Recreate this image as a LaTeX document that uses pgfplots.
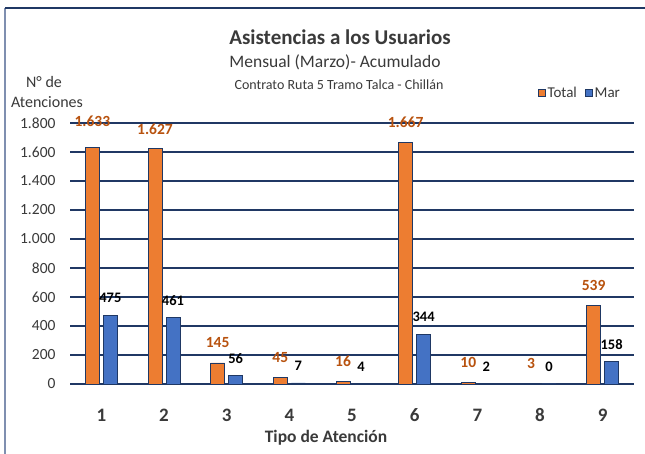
\documentclass[border=0pt]{standalone}
\usepackage{pgfplots}
\pgfplotsset{compat=1.18}
\usepackage{fontspec}
\setmainfont{Carlito}
\definecolor{navy}{HTML}{203864}
\definecolor{borderc}{HTML}{1F3864}
\definecolor{orangec}{HTML}{ED7D31}
\definecolor{bluec}{HTML}{4472C4}
\definecolor{labelor}{HTML}{B8520E}
\definecolor{txtgray}{HTML}{3A3A3A}
\definecolor{leftline}{HTML}{7F8FB0}
\newcommand{\fs}[1]{\fontsize{#1pt}{#1pt}\selectfont}
\begin{document}
\begin{tikzpicture}
\useasboundingbox (0,0) rectangle (645pt,454pt);
\fill[white] (0,0) rectangle (645pt,454pt);
\draw[leftline, line width=1.2pt] (5pt,0) -- (5pt,446pt);
\draw[borderc, line width=1.2pt] (5pt,446pt) -- (645pt,446pt);
\begin{axis}[
  at={(70pt,70pt)}, anchor=south west,
  scale only axis, width=564pt, height=261pt,
  xmin=0.5, xmax=9.5, ymin=0, ymax=1800,
  clip=false,
  ybar=4pt, bar width=14pt,
  xtick={1,...,9},
  ytick={0,200,...,1800},
  ymajorgrids, major grid style={navy, line width=1.4pt},
  axis line style={draw=none},
  tick style={draw=none},
  /pgf/number format/.cd, 1000 sep={.}, assume math mode=true,
  /pgfplots/.cd,
  yticklabel style={font=\fs{15.5}, text=txtgray, xshift=-11pt},
  xticklabel style={font=\fs{19}\bfseries, text=txtgray, anchor=base, yshift=-33pt},
  xticklabel={\pgfmathprintnumber[assume math mode=true]{\tick}},
  legend style={at={(0.904,1.115)}, anchor=center, draw=none, fill=none,
    font=\fs{15}, text=txtgray, legend columns=2,
    /tikz/every even column/.append style={column sep=6pt}},
  legend image code/.code={\draw[#1,draw=borderc,line width=0.8pt] (0pt,-3.5pt) rectangle (7pt,4pt);},
]
\addplot[fill=orangec, draw=borderc, line width=0.8pt,
  visualization depends on={\thisrow{s}\as\ys},
  nodes near coords,
  nodes near coords style={font=\fs{15.5}\bfseries, text=labelor, anchor=center, yshift=\ys pt}]
  table[x=x, y=y] {
x y s
1 1633 26
2 1627 19
3 145 20
4 45 20
5 16 20
6 1667 20
7 10 20
8 3 20
9 539 20
};
\addplot[fill=bluec, draw=borderc, line width=0.8pt,
  nodes near coords,
  nodes near coords style={font=\fs{14.5}\bfseries, text=black, anchor=center, yshift=17pt}]
  coordinates {(1,475) (2,461) (3,56) (4,7) (5,4) (6,344) (7,2) (8,0) (9,158)};
\legend{Total, Mar}
\end{axis}
\node[anchor=base, font=\fs{21}\bfseries, text=txtgray] at (340pt,409pt) {Asistencias a los Usuarios};
\node[anchor=base, font=\fs{17.5}, text=txtgray] at (335pt,386pt) {Mensual (Marzo)- Acumulado};
\node[anchor=base, font=\fs{14}, text=txtgray] at (339pt,364pt) {Contrato Ruta 5 Tramo Talca - Chillán};
\node[anchor=base, font=\fs{16}, text=txtgray] at (44pt,366pt) {N° de};
\node[anchor=base, font=\fs{16}, text=txtgray] at (47pt,346pt) {Atenciones};
\node[anchor=base, font=\fs{17.5}\bfseries, text=txtgray] at (326pt,11pt) {Tipo de Atención};
\end{tikzpicture}
\end{document}
